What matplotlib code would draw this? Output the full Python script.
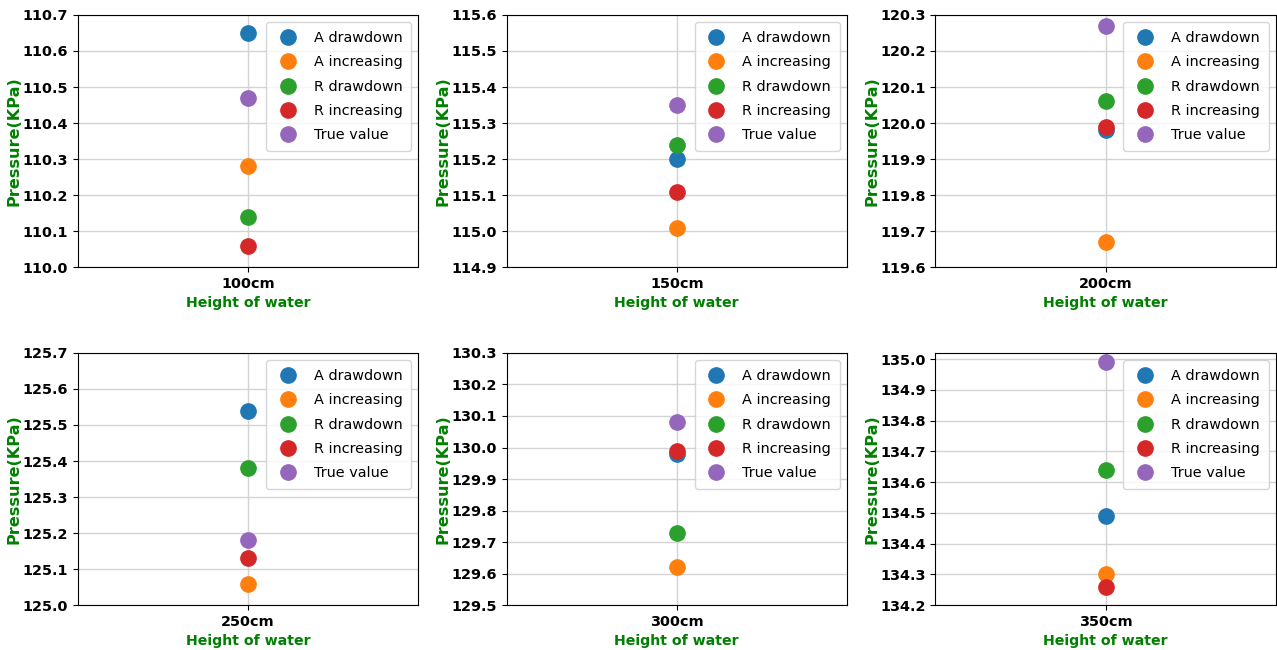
import numpy as np
import matplotlib
matplotlib.use("Agg")
import matplotlib.pyplot as plt
from matplotlib.ticker import MultipleLocator, FormatStrFormatter

# --- DATA ---
heights = ["100cm", "150cm", "200cm", "250cm", "300cm", "350cm"]
series = ["A drawdown", "A increasing", "R drawdown", "R increasing", "True value"]
colors = ["#1f77b4", "#ff7f0e", "#2ca02c", "#d62728", "#9467bd"]

a_drawdown = [110.65, 115.20, 119.98, 125.54, 129.98, 134.49]
a_increasing = [110.28, 115.01, 119.67, 125.06, 129.62, 134.30]
r_drawdown = [110.14, 115.24, 120.06, 125.38, 129.73, 134.64]
r_increasing = [110.06, 115.11, 119.99, 125.13, 129.99, 134.26]
true_value = [110.47, 115.35, 120.27, 125.18, 130.08, 134.99]

ylims = [(110.0, 110.7), (114.9, 115.6), (119.6, 120.3),
         (125.0, 125.7), (129.5, 130.3), (134.2, 135.02)]

values = [a_drawdown, a_increasing, r_drawdown, r_increasing, true_value]

# --- PLOT ---
fig, axes = plt.subplots(2, 3, figsize=(12.77, 6.5), dpi=100)
fig.subplots_adjust(left=0.061, right=0.999, top=0.977, bottom=0.069,
                    wspace=0.26, hspace=0.34)

for i, ax in enumerate(axes.flat):
    for name, vals, c in zip(series, values, colors):
        ax.plot([heights[i]], [vals[i]], 'o', color=c, markersize=11, label=name)
    ax.set_xlim(-1, 1)
    ax.set_ylim(*ylims[i])
    ax.yaxis.set_major_locator(MultipleLocator(0.1))
    ax.yaxis.set_major_formatter(FormatStrFormatter('%.1f'))
    ax.grid(True, color='#d3d3d3', lw=1)
    ax.set_axisbelow(True)
    for lab in ax.get_xticklabels() + ax.get_yticklabels():
        lab.set_fontweight('bold')
        lab.set_fontsize(10.4)
    ax.set_xlabel("Height of water", color='green', fontweight='bold', fontsize=10.2)
    ax.set_ylabel("Pressure(KPa)", color='green', fontweight='bold', fontsize=11.6)
    ax.yaxis.set_label_coords(-0.165, 0.5)
    ax.legend(loc='upper right', fontsize=10.4, numpoints=1, labelspacing=0.72,
              handlelength=1.8, handletextpad=0.9, borderaxespad=0.5,
              borderpad=0.6)

fig.savefig("out.png")
